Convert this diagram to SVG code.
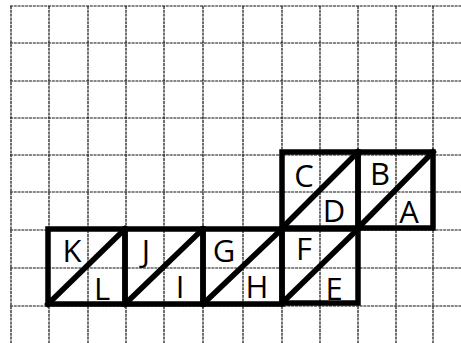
<svg xmlns="http://www.w3.org/2000/svg" width="461" height="343" viewBox="0 0 461 343">
<style>
.grid line{stroke:#111;stroke-width:1.2;stroke-dasharray:3 0.8}
.piece rect,.piece line{fill:none;stroke:#000;stroke-width:5.5;stroke-linejoin:miter;stroke-linecap:square}
.lbl{font-family:"Open Sans","Liberation Sans",sans-serif;font-size:31px;font-weight:500;fill:#000;text-anchor:middle}
</style>
<rect width="461" height="343" fill="#fff"/>
<g class="grid" id="grid">
<line x1="11" y1="6" x2="11" y2="343"/>
<line x1="49" y1="6" x2="49" y2="343"/>
<line x1="88" y1="6" x2="88" y2="343"/>
<line x1="126" y1="6" x2="126" y2="343"/>
<line x1="164" y1="6" x2="164" y2="343"/>
<line x1="203" y1="6" x2="203" y2="343"/>
<line x1="243" y1="6" x2="243" y2="343"/>
<line x1="282" y1="6" x2="282" y2="343"/>
<line x1="320" y1="6" x2="320" y2="343"/>
<line x1="358" y1="6" x2="358" y2="343"/>
<line x1="396" y1="6" x2="396" y2="343"/>
<line x1="433" y1="6" x2="433" y2="343"/>
<line x1="10" y1="6" x2="461" y2="6"/>
<line x1="10" y1="43" x2="461" y2="43"/>
<line x1="10" y1="81" x2="461" y2="81"/>
<line x1="10" y1="118" x2="461" y2="118"/>
<line x1="10" y1="155" x2="461" y2="155"/>
<line x1="10" y1="192" x2="461" y2="192"/>
<line x1="10" y1="230" x2="461" y2="230"/>
<line x1="10" y1="268" x2="461" y2="268"/>
<line x1="10" y1="306" x2="461" y2="306"/>
</g>
<g id="connectors"></g>
<g class="piece" id="piece-CD">
<rect x="282" y="152" width="76" height="76"/>
<line x1="282" y1="228" x2="358" y2="152"/>
<text class="lbl" x="304" y="187">C</text>
<text class="lbl" x="334" y="222">D</text>
</g>
<g class="piece" id="piece-BA">
<rect x="358" y="152" width="75" height="76"/>
<line x1="358" y1="228" x2="433" y2="152"/>
<text class="lbl" x="380" y="185">B</text>
<text class="lbl" x="409" y="223">A</text>
</g>
<g class="piece" id="piece-KL">
<rect x="48" y="229" width="77" height="75"/>
<line x1="48" y1="304" x2="125" y2="229"/>
<text class="lbl" x="72" y="262">K</text>
<text class="lbl" x="102" y="300">L</text>
</g>
<g class="piece" id="piece-JI">
<rect x="125" y="229" width="78" height="75"/>
<line x1="125" y1="304" x2="203" y2="229"/>
<text class="lbl" x="146" y="262">J</text>
<text class="lbl" x="180" y="298">I</text>
</g>
<g class="piece" id="piece-GH">
<rect x="203" y="229" width="79" height="75"/>
<line x1="203" y1="304" x2="282" y2="229"/>
<text class="lbl" x="224" y="262">G</text>
<text class="lbl" x="257" y="298">H</text>
</g>
<g class="piece" id="piece-FE">
<rect x="282" y="229" width="76" height="74"/>
<line x1="282" y1="303" x2="358" y2="229"/>
<text class="lbl" x="304" y="260">F</text>
<text class="lbl" x="334" y="300">E</text>
</g>
</svg>
